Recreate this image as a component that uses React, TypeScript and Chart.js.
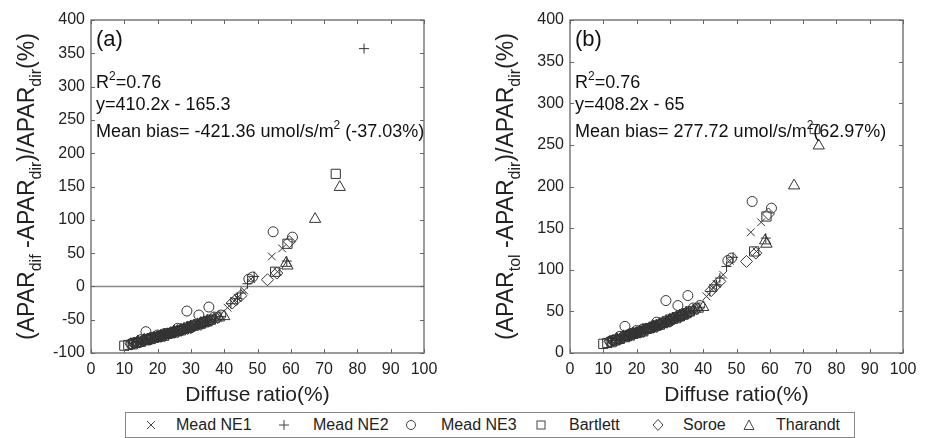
import React, { useEffect, useRef } from "react";
import { Chart, registerables } from "chart.js";
Chart.register(...registerables);

const FONT = "'Liberation Sans', Arial, Helvetica, sans-serif";

// ---------------- DATA ----------------
const xTickValues = [0, 10, 20, 30, 40, 50, 60, 70, 80, 90, 100];
const yTicksA = [-100, -50, 0, 50, 100, 150, 200, 250, 300, 350, 400];
const yTicksB = [0, 50, 100, 150, 200, 250, 300, 350, 400];

const seriesNames = ["Mead NE1", "Mead NE2", "Mead NE3", "Bartlett", "Soroe", "Tharandt"];

// Diffuse ratio (%) per site
const meadNE1X = [12, 13, 14.5, 15, 16, 17, 18, 19, 20, 21, 22, 23, 24, 25, 26, 27, 28, 29, 30, 31, 32, 33, 34, 35, 36, 38, 41, 43, 44, 46, 48, 54.3, 57.4, 56];
const meadNE2X = [12.5, 14, 15, 16, 17, 18, 19, 20, 21, 22, 23, 24, 25, 26, 27, 28, 29, 30, 31, 32, 33, 34, 35, 36, 37, 39, 42, 44, 45, 47, 49, 58.8, 82];
const meadNE3X = [12, 13, 15, 16.5, 17, 18, 19, 20, 21, 22, 23, 24, 25, 26, 27, 28.8, 30, 32.4, 35.4, 37, 39, 47.4, 48.5, 54.7, 60.5];
const bartlettX = [10, 11.2, 12.5, 13.5, 14, 15, 16.5, 17, 18, 19, 20, 21, 22, 23, 24, 25, 26, 27, 28, 29, 30, 31, 32, 33, 34, 35, 36, 55.3, 59, 73.5];
const soroeX = [12, 13, 14, 15.5, 16, 17.5, 18, 19, 20, 21, 22, 23, 24, 25, 26, 27, 29, 30, 31, 33, 34, 36, 38, 42.4, 43.5, 45, 53, 55.8, 59.6];
const tharandtX = [14, 16, 17, 19, 20, 21, 22, 23, 24, 25, 26, 27, 28, 29, 30, 31, 32, 33, 34, 35, 37, 38.4, 40, 58.6, 59, 67.3, 74.7];

// Panel (a): (APARdif - APARdir)/APARdir (%)
const meadNE1A = [-86, -84, -83, -82, -81, -79, -77, -78, -75, -74, -73, -71, -70, -68, -67, -66, -64, -62, -61, -58, -57, -56, -54, -52, -50, -47, -32, -22, -17, -6, 11, 45, 57, 22];
const meadNE2A = [-85, -83, -82, -80, -79, -78, -76, -75, -74, -72, -71, -69, -68, -67, -65, -64, -62, -60, -59, -57, -55, -54, -52, -50, -49, -45, -26, -18, -10, 4, 15, 38, 357];
const meadNE3A = [-86, -85, -80, -68, -79, -77, -76, -73, -74, -71, -71, -70, -68, -63, -66, -37, -62, -43, -31, -46, -43, 11, 14, 82, 74];
const bartlettA = [-89, -88, -87, -85, -84, -83, -81, -80, -79, -77, -76, -75, -74, -71, -70, -69, -67, -66, -64, -62, -60, -59, -57, -56, -54, -52, -50, 22, 64, 169];
const soroeA = [-86, -85, -84, -82, -81, -79, -78, -77, -76, -75, -74, -72, -70, -69, -68, -66, -63, -62, -59, -57, -54, -51, -47, -25, -20, -14, 10, 20, 67];
const tharandtA = [-83, -80, -80, -77, -76, -74, -73, -72, -70, -68, -67, -65, -64, -62, -60, -59, -57, -55, -55, -52, -49, -47, -45, 35, 31, 101, 149];

// Panel (b): (APARtol - APARdir)/APARdir (%)
const meadNE1B = [14, 16, 17, 18, 19, 21, 23, 22, 25, 26, 27, 29, 30, 32, 33, 34, 36, 38, 39, 42, 43, 44, 46, 48, 50, 53, 68, 78, 83, 94, 111, 145, 157, 122];
const meadNE2B = [15, 17, 18, 20, 21, 22, 24, 25, 26, 28, 29, 31, 32, 33, 35, 36, 38, 40, 41, 43, 45, 46, 48, 50, 51, 55, 74, 82, 90, 104, 115, 138, 457];
const meadNE3B = [14, 15, 20, 32, 21, 23, 24, 27, 26, 29, 29, 30, 32, 37, 34, 63, 38, 57, 69, 54, 57, 111, 114, 182, 174];
const bartlettB = [11, 12, 13, 15, 16, 17, 19, 20, 21, 23, 24, 25, 26, 29, 30, 31, 33, 34, 36, 38, 40, 41, 43, 44, 46, 48, 50, 122, 164, 269];
const soroeB = [14, 15, 16, 18, 19, 21, 22, 23, 24, 25, 26, 28, 30, 31, 32, 34, 37, 38, 41, 43, 46, 49, 53, 75, 80, 86, 110, 120, 167];
const tharandtB = [17, 20, 20, 23, 24, 26, 27, 28, 30, 32, 33, 35, 36, 38, 40, 41, 43, 45, 45, 48, 51, 53, 55, 135, 131, 201, 249];

const xSets = [meadNE1X, meadNE2X, meadNE3X, bartlettX, soroeX, tharandtX];
const ySetsA = [meadNE1A, meadNE2A, meadNE3A, bartlettA, soroeA, tharandtA];
const ySetsB = [meadNE1B, meadNE2B, meadNE3B, bartlettB, soroeB, tharandtB];

const pointStyles = ["crossRot", "cross", "circle", "rect", "rectRot", "triangle"];
const pointRadii = [5.5, 5, 5, 6.5, 6, 6.5];

// ---------------- helpers ----------------
type Seg = [string, number]; // 0 normal, 1 sub, 2 sup

function segFont(size: number, k: number) {
  return `${k ? Math.round(size * 0.68) : size}px ${FONT}`;
}

function richWidth(ctx: CanvasRenderingContext2D, segs: Seg[], size: number) {
  let w = 0;
  for (const [t, k] of segs) {
    ctx.font = segFont(size, k);
    w += ctx.measureText(t).width;
  }
  return w;
}

function drawRich(ctx: CanvasRenderingContext2D, segs: Seg[], x: number, y: number, size: number, color: string) {
  ctx.fillStyle = color;
  ctx.textAlign = "left";
  ctx.textBaseline = "alphabetic";
  let cx = x;
  for (const [t, k] of segs) {
    ctx.font = segFont(size, k);
    const dy = k === 1 ? size * 0.32 : k === 2 ? -size * 0.45 : 0;
    ctx.fillText(t, cx, y + dy);
    cx += ctx.measureText(t).width;
  }
}

interface PanelCfg {
  ySets: number[][];
  yMin: number;
  yMax: number;
  yTicks: number[];
  zeroLine: boolean;
  yTitle: Seg[];
  yTitleX: number;
  label: string;
  notes: Seg[][];
  yAxisWidth: number;
  padRight: number;
}

function makeChart(canvas: HTMLCanvasElement, cfg: PanelCfg) {
  const datasets: any[] = seriesNames.map((name, i) => ({
    type: "scatter",
    label: name,
    data: xSets[i].map((x, j) => ({ x, y: cfg.ySets[i][j] })),
    pointStyle: pointStyles[i],
    pointRadius: pointRadii[i],
    pointBorderColor: "#333",
    pointBackgroundColor: "rgba(0,0,0,0)",
    pointBorderWidth: 1,
    showLine: false,
    order: 1,
  }));
  if (cfg.zeroLine) {
    datasets.push({
      type: "line",
      label: "zero",
      data: [
        { x: 0, y: 0 },
        { x: 100, y: 0 },
      ],
      borderColor: "#888",
      borderWidth: 1.5,
      pointRadius: 0,
      order: 10,
    });
  }

  const framePlugin = {
    id: "frame",
    afterDatasetsDraw(chart: any) {
      const { ctx, chartArea: a, scales } = chart;
      ctx.save();
      ctx.strokeStyle = "#666";
      ctx.lineWidth = 1.3;
      ctx.strokeRect(a.left, a.top, a.right - a.left, a.bottom - a.top);
      ctx.lineWidth = 1;
      ctx.beginPath();
      const tl = 4;
      for (const v of xTickValues) {
        const px = Math.round(scales.x.getPixelForValue(v)) + 0.5;
        ctx.moveTo(px, a.bottom);
        ctx.lineTo(px, a.bottom - tl);
        ctx.moveTo(px, a.top);
        ctx.lineTo(px, a.top + tl);
      }
      for (const v of cfg.yTicks) {
        const py = Math.round(scales.y.getPixelForValue(v)) + 0.5;
        ctx.moveTo(a.left, py);
        ctx.lineTo(a.left + tl, py);
        ctx.moveTo(a.right, py);
        ctx.lineTo(a.right - tl, py);
      }
      ctx.stroke();
      ctx.restore();
    },
    afterDraw(chart: any) {
      const { ctx, chartArea: a } = chart;
      ctx.save();
      ctx.fillStyle = "#111";
      ctx.font = `22px ${FONT}`;
      ctx.textAlign = "left";
      ctx.textBaseline = "alphabetic";
      ctx.fillText(cfg.label, a.left + 5, a.top + 26);
      const baselines = [68, 90, 117];
      cfg.notes.forEach((segs, i) => {
        drawRich(ctx, segs, a.left + 5, a.top + baselines[i], 18, "#111");
      });
      const size = 23;
      const w = richWidth(ctx, cfg.yTitle, size);
      ctx.translate(cfg.yTitleX, (a.top + a.bottom) / 2);
      ctx.rotate(-Math.PI / 2);
      drawRich(ctx, cfg.yTitle, -w / 2, 7, size, "#222");
      ctx.restore();
    },
  };

  return new Chart(canvas, {
    type: "scatter",
    data: { datasets },
    options: {
      animation: false,
      responsive: false,
      maintainAspectRatio: false,
      events: [],
      layout: { padding: { left: 0, right: cfg.padRight, top: 20, bottom: 0 } },
      plugins: { legend: { display: false }, tooltip: { enabled: false } },
      scales: {
        x: {
          type: "linear",
          min: 0,
          max: 100,
          ticks: {
            stepSize: 10,
            autoSkip: false,
            maxRotation: 0,
            padding: 7,
            color: "#222",
            font: { family: FONT, size: 16 },
          },
          grid: { display: false, drawTicks: false },
          border: { display: false },
          title: {
            display: true,
            text: "Diffuse ratio(%)",
            color: "#222",
            font: { family: FONT, size: 21 },
            padding: { top: 0, bottom: 2 },
          },
          afterFit: (s: any) => {
            s.height = 57;
          },
        },
        y: {
          type: "linear",
          min: cfg.yMin,
          max: cfg.yMax,
          ticks: {
            stepSize: 50,
            autoSkip: false,
            padding: 6,
            color: "#222",
            font: { family: FONT, size: 16 },
          },
          grid: { display: false, drawTicks: false },
          border: { display: false },
          afterFit: (s: any) => {
            s.width = cfg.yAxisWidth;
          },
        },
      },
    } as any,
    plugins: [framePlugin],
  } as any);
}

function Panel({ cfg, left, width }: { cfg: PanelCfg; left: number; width: number }) {
  const ref = useRef<HTMLCanvasElement>(null);
  useEffect(() => {
    if (!ref.current) return;
    const ch = makeChart(ref.current, cfg);
    return () => ch.destroy();
  }, []);
  return (
    <canvas
      ref={ref}
      width={width}
      height={410}
      style={{ position: "absolute", left, top: 0, width, height: 410 }}
    />
  );
}

const cfgA: PanelCfg = {
  ySets: ySetsA,
  yMin: -100,
  yMax: 400,
  yTicks: yTicksA,
  zeroLine: true,
  yTitle: [
    ["(APAR", 0],
    ["dif", 1],
    [" -APAR", 0],
    ["dir", 1],
    [")/APAR", 0],
    ["dir", 1],
    ["(%)", 0],
  ],
  yTitleX: 27,
  label: "(a)",
  notes: [
    [["R", 0], ["2", 2], ["=0.76", 0]],
    [["y=410.2x - 165.3", 0]],
    [["Mean bias= -421.36 umol/s/m", 0], ["2", 2], [" (-37.03%)", 0]],
  ],
  yAxisWidth: 91,
  padRight: 36,
};

const cfgB: PanelCfg = {
  ySets: ySetsB,
  yMin: 0,
  yMax: 400,
  yTicks: yTicksB,
  zeroLine: false,
  yTitle: [
    ["(APAR", 0],
    ["tol", 1],
    [" -APAR", 0],
    ["dir", 1],
    [")/APAR", 0],
    ["dir", 1],
    ["(%)", 0],
  ],
  yTitleX: 46,
  label: "(b)",
  notes: [
    [["R", 0], ["2", 2], ["=0.76", 0]],
    [["y=408.2x - 65", 0]],
    [["Mean bias= 277.72 umol/s/m", 0], ["2", 2], ["(62.97%)", 0]],
  ],
  yAxisWidth: 110,
  padRight: 24,
};

function Marker({ kind }: { kind: number }) {
  const s = "#444";
  const common = { fill: "none", stroke: s, strokeWidth: 1 } as any;
  let el: any = null;
  if (kind === 0) el = <path d="M2,2 L10,10 M10,2 L2,10" {...common} />;
  if (kind === 1) el = <path d="M1,6 L11,6 M6,1 L6,11" {...common} />;
  if (kind === 2) el = <circle cx={6} cy={6} r={4.5} {...common} />;
  if (kind === 3) el = <rect x={2} y={2} width={8} height={8} {...common} />;
  if (kind === 4) el = <path d="M6,0.5 L11,6 L6,11.5 L1,6 Z" {...common} />;
  if (kind === 5) el = <path d="M6,1 L11,10.5 L1,10.5 Z" {...common} />;
  return (
    <svg width={12} height={12} style={{ display: "block" }}>
      {el}
    </svg>
  );
}

const legendMarkerX = [150, 283, 410, 540, 657, 748];
const legendTextX = [175, 312, 440, 568, 682, 775];

function Legend() {
  return (
    <div
      style={{
        position: "absolute",
        left: 125,
        top: 412,
        width: 730,
        height: 26,
        border: "1.5px solid #888",
        boxSizing: "border-box",
      }}
    >
      {seriesNames.map((n, i) => (
        <React.Fragment key={n}>
          <div style={{ position: "absolute", left: legendMarkerX[i] - 125 - 6, top: 6 }}>
            <Marker kind={i} />
          </div>
          <div
            style={{
              position: "absolute",
              left: legendTextX[i] - 125,
              top: 2,
              font: `16px ${FONT}`,
              color: "#222",
              whiteSpace: "nowrap",
              lineHeight: "20px",
            }}
          >
            {n}
          </div>
        </React.Fragment>
      ))}
    </div>
  );
}

export default function App() {
  return (
    <div
      style={{
        position: "fixed",
        left: 0,
        top: 0,
        width: 927,
        height: 438,
        background: "#fff",
        overflow: "hidden",
      }}
    >
      <Panel cfg={cfgA} left={0} width={460} />
      <Panel cfg={cfgB} left={460} width={467} />
      <Legend />
    </div>
  );
}
